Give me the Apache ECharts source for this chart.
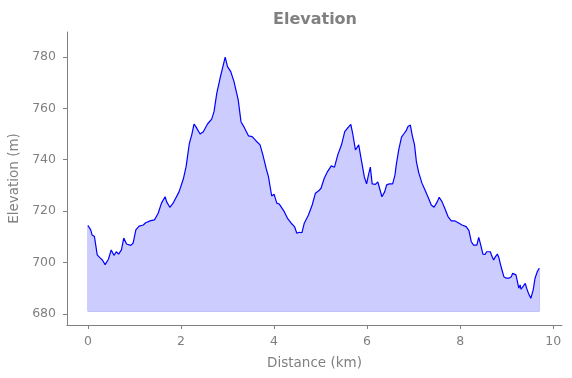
<!DOCTYPE html>
<html>
<head>
<meta charset="utf-8">
<script src="https://cdn.jsdelivr.net/npm/echarts@6/dist/echarts.min.js"></script>
<style>
    html, body { margin: 0; padding: 0; background: #fff; }
    #show_picture { width: 572px; height: 378px; }
</style>
</head>
<body>
<div id="show_picture"></div>
<script>
// distance along the track (km)
const distance = [
    0.00, 0.06, 0.09, 0.14, 0.20, 0.25, 0.31, 0.37, 0.44, 0.50, 0.56, 0.61, 0.66, 0.72, 0.77, 0.83, 0.92, 0.97,
    1.03, 1.10, 1.19, 1.24, 1.35, 1.43, 1.51, 1.58, 1.66, 1.69, 1.76, 1.83, 1.96, 2.05, 2.11, 2.14, 2.18, 2.23,
    2.28, 2.32, 2.41, 2.48, 2.57, 2.66, 2.71, 2.77, 2.84, 2.91, 2.95, 3.00, 3.07, 3.14, 3.23, 3.29, 3.35, 3.45,
    3.53, 3.61, 3.70, 3.76, 3.83, 3.88, 3.95, 4.00, 4.06, 4.11, 4.15, 4.22, 4.29, 4.37, 4.44, 4.49, 4.54, 4.60,
    4.65, 4.74, 4.82, 4.89, 4.96, 5.01, 5.08, 5.15, 5.23, 5.30, 5.37, 5.45, 5.52, 5.58, 5.65, 5.69, 5.75, 5.79,
    5.82, 5.87, 5.94, 5.99, 6.03, 6.07, 6.11, 6.18, 6.23, 6.26, 6.32, 6.38, 6.42, 6.48, 6.55, 6.60, 6.63, 6.68,
    6.74, 6.80, 6.84, 6.88, 6.93, 6.97, 7.02, 7.06, 7.11, 7.18, 7.25, 7.33, 7.38, 7.44, 7.51, 7.55, 7.61, 7.67,
    7.74, 7.81, 7.89, 7.96, 8.04, 8.13, 8.19, 8.24, 8.29, 8.36, 8.40, 8.44, 8.49, 8.54, 8.57, 8.61, 8.65, 8.68,
    8.72, 8.76, 8.80, 8.83, 8.87, 8.90, 8.94, 8.99, 9.05, 9.10, 9.13, 9.17, 9.20, 9.24, 9.26, 9.29, 9.31, 9.35,
    9.40, 9.43, 9.47, 9.52, 9.57, 9.61, 9.66, 9.70
];

// elevation (m)
const elevation = [
    714.4, 712.7, 710.7, 710.1, 703.0, 702.0, 701.0, 699.2, 701.3, 704.9, 702.8, 704.2, 703.3, 704.9, 709.5, 707.2, 706.7, 707.5,
    712.7, 714.2, 714.6, 715.5, 716.3, 716.6, 719.2, 723.1, 725.6, 723.7, 721.5, 723.1, 727.6, 732.5, 737.3, 741.2, 746.4, 749.6,
    753.9, 752.9, 750.0, 750.9, 753.9, 755.8, 758.7, 765.9, 771.7, 776.9, 779.9, 776.2, 774.3, 770.4, 763.3, 754.8, 752.9, 749.3,
    749.0, 747.4, 745.8, 741.9, 736.7, 733.4, 725.9, 726.6, 723.1, 722.8, 722.4, 719.8, 717.2, 715.3, 714.0, 711.4, 711.8, 711.6,
    715.3, 718.5, 722.4, 727.0, 727.9, 728.9, 732.8, 735.4, 737.6, 737.1, 741.9, 745.8, 750.9, 752.3, 753.8, 750.3, 743.8, 743.2,
    745.8, 740.6, 733.4, 730.6, 734.1, 737.1, 730.6, 730.4, 731.4, 729.5, 725.6, 727.6, 730.2, 730.6, 730.6, 734.1, 738.4, 743.8,
    748.8, 750.3, 751.3, 752.9, 753.5, 749.6, 745.8, 739.3, 735.0, 730.9, 728.0, 724.6, 722.4, 721.5, 723.7, 725.4, 723.7, 721.1,
    717.9, 716.2, 716.2, 715.5, 714.6, 714.0, 712.4, 708.1, 706.8, 706.8, 709.8, 707.1, 703.3, 703.2, 704.2, 703.6, 704.2, 702.6,
    701.0, 702.3, 703.3, 702.1, 699.1, 697.1, 694.5, 693.9, 693.9, 694.5, 695.8, 696.5, 695.2, 691.9, 690.0, 691.3, 689.6, 690.0,
    691.9, 690.0, 688.0, 686.1, 689.3, 693.9, 696.5, 697.8
];

const xTicks = [0, 2, 4, 6, 8, 10];
const yTicks = [680, 700, 720, 740, 760, 780];
const fillBase = 681;

let myChart = echarts.init(document.getElementById('show_picture'), null, {renderer: 'canvas'});

const grey = '#808080';
const font = 'DejaVu Sans';

let d = [];
for (let i = 0; i < distance.length; i++) {
    d.push([distance[i], elevation[i]]);
}

// outline of the filled region (left, bottom and right edges)
const last = distance.length - 1;
let edge = [
    [distance[0], elevation[0]],
    [distance[0], fillBase],
    [distance[last], fillBase],
    [distance[last], elevation[last]]
];

let option = {
    animation: false,
    backgroundColor: '#fff',
    title: {
        text: 'Elevation',
        left: 310,
        top: 7,
        textAlign: 'center',
        textStyle: {
            color: grey,
            fontFamily: font,
            fontWeight: 'bold',
            fontSize: 16
        }
    },
    grid: {
        left: 67,
        right: 10,
        top: 32,
        bottom: 53,
        outerBoundsMode: 'none'
    },
    xAxis: {
        type: 'value',
        min: -0.45,
        max: 10.19,
        name: 'Distance (km)',
        nameLocation: 'middle',
        nameGap: 31,
        nameTextStyle: {color: grey, fontFamily: font, fontSize: 13.5},
        axisLine: {show: true, onZero: false, lineStyle: {color: grey, width: 1}},
        axisTick: {show: true, customValues: xTicks, length: 4, lineStyle: {color: grey}},
        axisLabel: {customValues: xTicks, color: grey, fontFamily: font, fontSize: 12.5, margin: 10},
        splitLine: {show: false}
    },
    yAxis: {
        type: 'value',
        min: 675.7,
        max: 789.7,
        name: 'Elevation (m)',
        nameLocation: 'middle',
        nameGap: 43,
        nameTextStyle: {color: grey, fontFamily: font, fontSize: 13.5},
        axisLine: {show: true, onZero: false, lineStyle: {color: grey, width: 1}},
        axisTick: {show: true, customValues: yTicks, length: 4, lineStyle: {color: grey}},
        axisLabel: {customValues: yTicks, color: grey, fontFamily: font, fontSize: 12.5, margin: 11},
        splitLine: {show: false}
    },
    series: [
        {
            type: 'line',
            data: d,
            symbol: 'none',
            smooth: false,
            z: 3,
            lineStyle: {color: '#0000ff', width: 1.2},
            areaStyle: {color: '#ccccff', opacity: 1, origin: fillBase}
        },
        {
            type: 'line',
            data: edge,
            symbol: 'none',
            silent: true,
            z: 2,
            lineStyle: {color: '#aaaaf5', width: 1}
        }
    ]
};

option && myChart.setOption(option);
</script>
</body>
</html>
